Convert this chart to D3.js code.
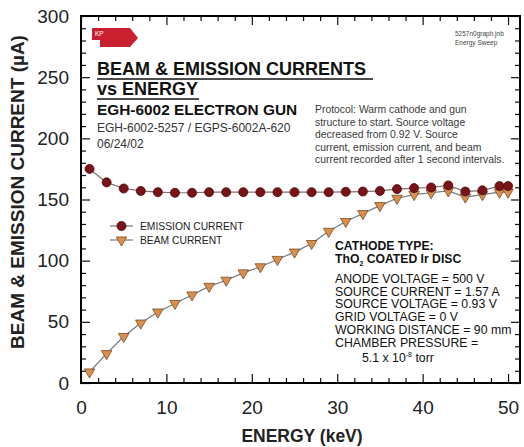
<!DOCTYPE html>
<html>
<head>
<meta charset="utf-8">
<script src="https://cdn.jsdelivr.net/npm/d3@7"></script>
<style>
  body { margin: 0; background: #fff; }
  svg { display: block; font-family: "Liberation Sans", Arial, sans-serif; }
</style>
</head>
<body>
<svg id="chart"></svg>
<script>
// energy steps (keV) and the two measured currents (uA)
const energy = [1, 3, 5, 7, 9, 11, 13, 15, 17, 19, 21, 23, 25, 27, 29, 31, 33, 35, 37, 39, 41, 43, 45, 47, 49, 50]
const emission = [175, 164, 159, 157, 156, 155.5, 155.5, 156, 156, 156, 156, 156, 156, 156, 156, 156.3, 156.5, 157, 158.5, 159.3, 159.8, 161.5, 156.5, 157.5, 161, 161]
const beam = [9, 24, 38, 49, 58, 65, 72, 79, 84, 90, 95, 101, 107, 114, 124, 132, 138.5, 145, 151, 154, 155.5, 157, 152, 154, 156, 156]

const xTicks = [0, 10, 20, 30, 40, 50]
const yTicks = [0, 50, 100, 150, 200, 250, 300]

const protocolLines = [
  'Protocol: Warm cathode and gun',
  'structure to start. Source voltage',
  'decreased from 0.92 V. Source',
  'current, emission current, and beam',
  'current recorded after 1 second intervals.'
]
const settingLines = [
  'ANODE VOLTAGE = 500 V',
  'SOURCE CURRENT = 1.57 A',
  'SOURCE VOLTAGE = 0.93 V',
  'GRID VOLTAGE = 0 V',
  'WORKING DISTANCE = 90 mm',
  'CHAMBER PRESSURE ='
]

const width = 524, height = 447
const frame = { left: 81, right: 520, top: 16, bottom: 383 }

const svg = d3.select('#chart')
  .attr('width', width)
  .attr('height', height)

const x = d3.scaleLinear().domain([0, 51.4]).range([frame.left, frame.right])
const y = d3.scaleLinear().domain([0, 300]).range([frame.bottom, frame.top])

const xMinor = d3.range(0, 51, 2).filter(d => d % 10 !== 0)
const yMinor = d3.range(0, 301, 10).filter(d => d % 50 !== 0)

function styleAxis(g) {
  g.select('.domain').remove()
  g.selectAll('line').attr('stroke', '#111').attr('stroke-width', 1.2)
  g.selectAll('text').attr('fill', '#222').attr('font-size', 19)
}

// bottom
svg.append('g').attr('transform', `translate(0,${frame.bottom})`)
  .call(d3.axisBottom(x).tickValues(xMinor).tickSize(-5).tickFormat(''))
  .call(styleAxis)
svg.append('g').attr('transform', `translate(0,${frame.bottom})`)
  .call(d3.axisBottom(x).tickValues(xTicks).tickSize(-9).tickPadding(18))
  .call(styleAxis)
// top
svg.append('g').attr('transform', `translate(0,${frame.top})`)
  .call(d3.axisTop(x).tickValues(xMinor).tickSize(-5).tickFormat(''))
  .call(styleAxis)
svg.append('g').attr('transform', `translate(0,${frame.top})`)
  .call(d3.axisTop(x).tickValues(xTicks).tickSize(-9).tickFormat(''))
  .call(styleAxis)
// left
svg.append('g').attr('transform', `translate(${frame.left},0)`)
  .call(d3.axisLeft(y).tickValues(yMinor).tickSize(-5).tickFormat(''))
  .call(styleAxis)
svg.append('g').attr('transform', `translate(${frame.left},0)`)
  .call(d3.axisLeft(y).tickValues(yTicks).tickSize(-9).tickPadding(12))
  .call(styleAxis)
// right
svg.append('g').attr('transform', `translate(${frame.right},0)`)
  .call(d3.axisRight(y).tickValues(yMinor).tickSize(-5).tickFormat(''))
  .call(styleAxis)
svg.append('g').attr('transform', `translate(${frame.right},0)`)
  .call(d3.axisRight(y).tickValues(yTicks).tickSize(-9).tickFormat(''))
  .call(styleAxis)

svg.append('rect')
  .attr('x', frame.left).attr('y', frame.top)
  .attr('width', frame.right - frame.left)
  .attr('height', frame.bottom - frame.top)
  .attr('fill', 'none').attr('stroke', '#000').attr('stroke-width', 2)

// axis titles
svg.append('text')
  .attr('x', 302).attr('y', 442)
  .attr('text-anchor', 'middle')
  .attr('font-size', 17.5).attr('font-weight', 'bold').attr('fill', '#222')
  .text('ENERGY (keV)')
svg.append('text')
  .attr('transform', 'translate(24,192) rotate(-90)')
  .attr('text-anchor', 'middle')
  .attr('font-size', 19).attr('font-weight', 'bold').attr('fill', '#222')
  .text('BEAM & EMISSION CURRENT (\u00b5A)')

// KP badge
svg.append('path')
  .attr('d', 'M92,28 L130,28 L138,38 L130,47 L100,47 L100,40 L92,40 Z')
  .attr('fill', '#c9202f')
svg.append('text')
  .attr('x', 95).attr('y', 36)
  .attr('font-size', 6.5).attr('fill', '#fff')
  .text('KP')

svg.append('text')
  .attr('x', 455).attr('font-size', 6.5).attr('fill', '#444')
  .selectAll('tspan').data(['5257n0graph.jnb', 'Energy Sweep'])
  .enter().append('tspan')
  .attr('x', 455).attr('y', (d, i) => 36 + i * 9)
  .text(d => d)

// titles
const title = svg.append('g').attr('fill', '#111')
title.append('text').attr('x', 97).attr('y', 75)
  .attr('font-size', 18).attr('font-weight', 'bold')
  .text('BEAM & EMISSION CURRENTS')
title.append('line').attr('x1', 97).attr('x2', 373).attr('y1', 79).attr('y2', 79)
  .attr('stroke', '#111').attr('stroke-width', 1.6)
title.append('text').attr('x', 97).attr('y', 95)
  .attr('font-size', 18).attr('font-weight', 'bold')
  .text('vs ENERGY')
title.append('line').attr('x1', 97).attr('x2', 199).attr('y1', 99).attr('y2', 99)
  .attr('stroke', '#111').attr('stroke-width', 1.6)
title.append('text').attr('x', 97).attr('y', 115)
  .attr('font-size', 15.4).attr('font-weight', 'bold')
  .text('EGH-6002 ELECTRON GUN')
title.append('text').attr('x', 97).attr('y', 132)
  .attr('font-size', 12).attr('fill', '#333')
  .text('EGH-6002-5257 / EGPS-6002A-620')
title.append('text').attr('x', 97).attr('y', 148)
  .attr('font-size', 12).attr('fill', '#333')
  .text('06/24/02')

svg.append('g')
  .selectAll('text').data(protocolLines)
  .enter().append('text')
  .attr('x', 315).attr('y', (d, i) => 113 + i * 12.5)
  .attr('font-size', 10.4).attr('fill', '#3a3a3a')
  .text(d => d)

// cathode block
const cath = svg.append('g').attr('fill', '#111')
cath.append('text').attr('x', 335).attr('y', 250)
  .attr('font-size', 12.2).attr('font-weight', 'bold')
  .text('CATHODE TYPE:')
const tho = cath.append('text').attr('x', 335).attr('y', 263)
  .attr('font-size', 12.2).attr('font-weight', 'bold')
tho.append('tspan').text('ThO')
tho.append('tspan').attr('font-size', 7).attr('dy', 3).text('2')
tho.append('tspan').attr('dy', -3).text(' COATED Ir DISC')
cath.selectAll('.setting').data(settingLines)
  .enter().append('text')
  .attr('class', 'setting')
  .attr('x', 335).attr('y', (d, i) => 283 + i * 12.7)
  .attr('font-size', 12.3)
  .text(d => d)
const pres = cath.append('text').attr('x', 362).attr('y', 362).attr('font-size', 12.3)
pres.append('tspan').text('5.1 x 10')
pres.append('tspan').attr('font-size', 7).attr('dy', -5).text('-8')
pres.append('tspan').attr('dy', 5).text(' torr')

// series
const line = d3.line().x(d => x(d[0])).y(d => y(d[1]))
const beamPts = energy.map((e, i) => [e, beam[i]])
const emisPts = energy.map((e, i) => [e, emission[i]])

const tri = d3.symbol().type(d3.symbolTriangle).size(48)
const dot = d3.symbol().type(d3.symbolCircle).size(64)

function drawBeamMarker(sel) {
  sel.attr('d', tri)
    .attr('fill', '#d9904f').attr('stroke', '#7a4a22').attr('stroke-width', 0.8)
}
function drawEmisMarker(sel) {
  sel.attr('d', dot)
    .attr('fill', '#7a1318').attr('stroke', '#4a0a0c').attr('stroke-width', 0.8)
}

svg.append('path').datum(beamPts)
  .attr('d', line).attr('fill', 'none')
  .attr('stroke', '#6d7b86').attr('stroke-width', 1.2)
svg.append('g').selectAll('path').data(beamPts)
  .enter().append('path')
  .attr('transform', d => `translate(${x(d[0])},${y(d[1])}) rotate(180)`)
  .call(drawBeamMarker)

svg.append('path').datum(emisPts)
  .attr('d', line).attr('fill', 'none')
  .attr('stroke', '#7d7070').attr('stroke-width', 1.2)
svg.append('g').selectAll('path').data(emisPts)
  .enter().append('path')
  .attr('transform', d => `translate(${x(d[0])},${y(d[1])})`)
  .call(drawEmisMarker)

// legend
const legend = svg.append('g')
const items = [
  { label: 'EMISSION CURRENT', y: 226, marker: drawEmisMarker, rot: 0, stroke: '#7d7070' },
  { label: 'BEAM CURRENT', y: 240, marker: drawBeamMarker, rot: 180, stroke: '#6d7b86' }
]
items.forEach(it => {
  legend.append('line').attr('x1', 110).attr('x2', 133).attr('y1', it.y).attr('y2', it.y)
    .attr('stroke', it.stroke).attr('stroke-width', 1.2)
  legend.append('path')
    .attr('transform', `translate(121.5,${it.y}) rotate(${it.rot})`)
    .call(it.marker)
  legend.append('text').attr('x', 140).attr('y', it.y + 3.7)
    .attr('font-size', 10.3).attr('fill', '#222')
    .text(it.label)
})
</script>
</body>
</html>
